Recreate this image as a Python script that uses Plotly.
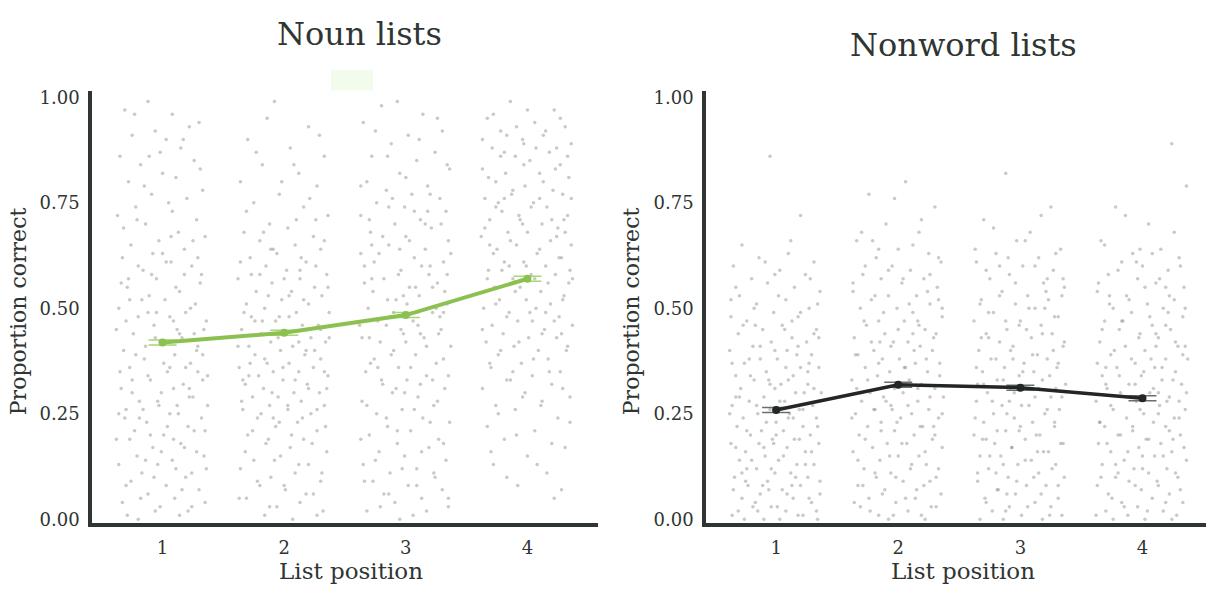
import plotly.graph_objects as go

# ---- summary data: mean proportion correct by list position ----
positions = [1, 2, 3, 4]
tick_labels = ["1", "2", "3", "4"]
noun_means = [0.419, 0.442, 0.484, 0.570]
noun_err = [0.006, 0.006, 0.006, 0.006]
nonword_means = [0.259, 0.319, 0.312, 0.287]
nonword_err = [0.006, 0.006, 0.006, 0.006]

# ---- per-participant scores: (horizontal jitter in 1/100 of a unit, score in %) ----
noun_pos1 = [
    (-31, 97), (-12, 99), (8, 96), (22, 93), (-25, 91), (3, 90), (30, 94), (-6, 92), (15, 88), (-35, 86),
    (-18, 84), (26, 85), (0, 82), (-28, 80), (11, 81), (33, 78), (-9, 77), (20, 76), (-22, 74), (5, 75),
    (-37, 72), (28, 71), (-14, 70), (13, 68), (-3, 66), (35, 67), (-26, 65), (18, 64), (-33, 62), (7, 61),
    (24, 60), (-16, 59), (-5, 57), (31, 56), (-29, 55), (14, 54), (-11, 53), (2, 52), (27, 51), (-36, 50),
    (19, 49), (-20, 48), (9, 47), (-7, 46), (34, 45), (-24, 44), (16, 43), (-2, 42), (29, 41), (-32, 40),
    (10, 39), (-15, 38), (23, 37), (-27, 36), (4, 35), (37, 34), (-10, 33), (17, 32), (-34, 31), (-1, 30),
    (25, 29), (-19, 28), (12, 27), (-30, 26), (6, 25), (32, 24), (-13, 23), (21, 22), (-23, 21), (1, 20),
    (-38, 19), (15, 18), (-8, 17), (28, 16), (-21, 15), (8, 14), (-4, 13), (36, 12), (-17, 11), (19, 10),
    (-26, 9), (3, 8), (30, 7), (-12, 6), (10, 5), (-33, 4), (24, 3), (-6, 2), (14, 1), (-20, 0),
    (-9, 58), (26, 44), (-30, 47), (6, 36), (-17, 52), (33, 39), (-3, 27), (18, 58), (-25, 33), (12, 45),
    (-36, 25), (0, 63), (22, 31), (-14, 41), (35, 21), (-5, 49), (9, 19), (-28, 57), (29, 35), (-19, 24),
    (-23, 96), (17, 90), (-2, 87), (31, 83), (-15, 79), (8, 73), (-32, 69), (25, 66), (-8, 63), (3, 61),
    (-20, 60), (32, 58), (-34, 56), (11, 55), (-27, 52), (23, 50), (-12, 49), (6, 48), (36, 47), (-38, 45),
    (14, 44), (-6, 43), (28, 40), (-22, 39), (1, 37), (19, 36), (-35, 35), (-12, 34), (33, 33), (9, 31),
    (-25, 30), (22, 29), (-4, 28), (37, 27), (-16, 26), (13, 25), (-31, 24), (4, 22), (26, 21), (-10, 20),
    (-27, 19), (18, 17), (-1, 16), (34, 15), (-14, 14), (-36, 13), (11, 12), (24, 11), (-7, 10), (-30, 8),
    (16, 7), (-18, 5), (35, 4), (-2, 3), (21, 2), (-29, 1), (7, 67), (-21, 71), (29, 62), (-11, 86),
]
noun_pos2 = [
    (-8, 99), (20, 93), (-30, 90), (5, 88), (33, 86), (-18, 84), (12, 82), (-36, 80), (27, 79), (-4, 77),
    (-25, 75), (16, 74), (36, 72), (-12, 70), (3, 69), (-33, 68), (24, 67), (-20, 66), (9, 65), (30, 64),
    (-6, 63), (-28, 62), (18, 61), (-15, 60), (2, 59), (35, 58), (-38, 57), (13, 57), (-10, 56), (25, 55),
    (-23, 54), (6, 54), (31, 53), (-2, 52), (-31, 51), (20, 51), (-16, 50), (10, 49), (37, 49), (-27, 48),
    (-7, 47), (15, 46), (28, 46), (-35, 45), (1, 44), (-19, 44), (22, 43), (-11, 42), (34, 42), (-29, 41),
    (7, 41), (-3, 40), (17, 39), (-24, 39), (30, 38), (-14, 37), (4, 37), (-37, 36), (24, 36), (-9, 35),
    (12, 35), (-21, 34), (36, 34), (-1, 33), (-32, 32), (19, 32), (-17, 31), (8, 30), (29, 30), (-26, 29),
    (-5, 29), (14, 28), (33, 27), (-12, 27), (-34, 26), (3, 26), (22, 25), (-22, 24), (11, 23), (-7, 22),
    (27, 21), (-30, 20), (16, 19), (-15, 18), (5, 17), (35, 16), (-3, 15), (-25, 14), (20, 13), (-36, 12),
    (9, 11), (-11, 10), (30, 9), (-20, 8), (1, 7), (24, 6), (-31, 5), (13, 4), (-6, 3), (32, 2),
    (-16, 1), (7, 0), (-27, 58), (18, 40), (-9, 24), (26, 71), (-34, 33), (4, 53), (-18, 47), (35, 31),
    (-14, 95), (29, 91), (-23, 87), (8, 84), (-2, 80), (21, 76), (-31, 73), (10, 71), (-17, 68), (33, 66),
    (-9, 64), (14, 62), (-36, 61), (26, 60), (-20, 58), (0, 57), (36, 55), (-13, 53), (16, 52), (-33, 49),
    (4, 48), (-24, 47), (30, 45), (-5, 43), (12, 42), (-38, 41), (25, 40), (-16, 38), (-1, 36), (33, 35),
    (-29, 34), (9, 33), (20, 31), (-10, 30), (-35, 28), (3, 27), (27, 26), (-19, 25), (15, 24), (-4, 23),
    (34, 22), (-26, 21), (6, 20), (-13, 19), (23, 18), (-32, 16), (-8, 14), (12, 13), (31, 11), (-22, 9),
    (0, 8), (18, 6), (-37, 5), (-12, 3), (27, 1), (-4, 48), (37, 43), (-28, 37), (13, 59), (-11, 64),
]
noun_pos3 = [
    (-20, 98), (14, 96), (-35, 94), (30, 92), (2, 91), (-12, 89), (24, 87), (-28, 86), (9, 85), (36, 83),
    (-5, 82), (-32, 80), (18, 79), (-16, 78), (5, 77), (28, 76), (-24, 75), (-1, 74), (33, 73), (-37, 72),
    (12, 71), (-9, 70), (21, 69), (-29, 68), (0, 67), (35, 66), (-14, 65), (16, 64), (-22, 63), (7, 62),
    (31, 61), (-34, 60), (-4, 59), (19, 58), (-18, 57), (26, 56), (3, 55), (-27, 54), (11, 53), (-8, 52),
    (34, 51), (-31, 50), (22, 49), (-13, 48), (6, 47), (-38, 46), (29, 45), (-2, 44), (15, 43), (-21, 42),
    (37, 41), (-10, 40), (8, 39), (-26, 38), (25, 37), (-6, 36), (-33, 35), (17, 34), (1, 33), (-19, 32),
    (32, 31), (-11, 30), (10, 29), (-36, 28), (23, 27), (-3, 26), (-24, 25), (14, 24), (36, 23), (-15, 22),
    (4, 21), (-30, 20), (27, 19), (-7, 18), (19, 17), (-22, 16), (-1, 15), (33, 14), (-35, 13), (9, 12),
    (-13, 11), (24, 10), (-27, 9), (2, 8), (30, 7), (-18, 6), (13, 5), (-9, 4), (35, 3), (-32, 2),
    (6, 1), (20, 60), (-16, 46), (31, 38), (-28, 57), (-2, 53), (12, 44), (-37, 63), (25, 50), (-8, 31),
    (16, 70), (-23, 36), (34, 58), (0, 42), (-14, 74), (8, 55), (-30, 43), (22, 33), (-5, 64), (28, 48),
    (-7, 99), (26, 95), (-25, 92), (11, 90), (-15, 86), (34, 84), (0, 81), (-37, 79), (20, 77), (-11, 76),
    (7, 73), (-30, 71), (29, 70), (-19, 67), (3, 66), (37, 63), (-26, 61), (13, 60), (-6, 58), (-34, 56),
    (22, 55), (-15, 52), (1, 51), (31, 49), (-23, 47), (10, 46), (-4, 45), (27, 44), (-36, 43), (17, 41),
    (-12, 39), (-29, 37), (4, 36), (35, 34), (-20, 33), (12, 32), (-1, 30), (26, 28), (-32, 27), (7, 26),
    (-16, 24), (20, 23), (-7, 21), (-37, 19), (31, 18), (13, 16), (-25, 14), (-3, 12), (23, 11), (-34, 9),
    (9, 8), (-14, 6), (35, 5), (-21, 3), (17, 2), (-5, 0), (-28, 65), (32, 54), (-10, 49), (18, 73),
]
noun_pos4 = [
    (-14, 99), (22, 97), (-33, 95), (6, 94), (31, 93), (-22, 92), (13, 91), (-4, 90), (36, 89), (-29, 88),
    (18, 87), (-10, 86), (2, 85), (27, 84), (-37, 83), (-18, 82), (10, 82), (34, 81), (-26, 80), (-2, 79),
    (21, 78), (-13, 77), (29, 77), (-35, 76), (5, 75), (16, 74), (-21, 73), (-7, 72), (33, 72), (-31, 71),
    (12, 70), (25, 69), (-16, 68), (0, 68), (-38, 67), (19, 66), (-9, 65), (36, 65), (-25, 64), (8, 63),
    (28, 62), (-3, 61), (-19, 61), (15, 60), (-32, 59), (3, 58), (23, 58), (-12, 57), (34, 56), (-27, 55),
    (-6, 55), (11, 54), (30, 53), (-23, 52), (-1, 52), (19, 51), (-36, 50), (7, 50), (-15, 49), (26, 48),
    (-8, 47), (37, 46), (-29, 46), (14, 45), (-20, 44), (1, 43), (24, 43), (-34, 42), (-11, 41), (9, 40),
    (32, 40), (-24, 39), (17, 38), (-5, 37), (-30, 36), (27, 35), (4, 34), (-17, 33), (20, 32), (-37, 31),
    (-2, 30), (35, 29), (12, 28), (-26, 27), (-10, 26), (25, 24), (-33, 22), (6, 21), (-19, 19), (31, 17),
    (0, 15), (-28, 13), (16, 11), (-8, 8), (22, 5), (-15, 60), (30, 71), (-35, 54), (10, 76), (-22, 86),
    (4, 47), (-31, 65), (24, 88), (-12, 35), (37, 57), (-4, 70), (15, 49), (-26, 74), (28, 44), (-17, 91),
    (0, 97), (-28, 96), (27, 95), (-9, 93), (15, 92), (-37, 90), (7, 88), (-19, 87), (33, 86), (-3, 84),
    (23, 83), (-32, 81), (13, 80), (-12, 78), (36, 76), (-24, 75), (3, 74), (-6, 71), (20, 71), (-35, 69),
    (31, 68), (-14, 66), (10, 64), (-28, 63), (26, 62), (-1, 60), (-21, 59), (35, 59), (6, 57), (-33, 57),
    (17, 56), (-10, 54), (29, 52), (-26, 51), (2, 49), (-17, 48), (22, 47), (-37, 45), (12, 44), (-7, 42),
    (33, 41), (-22, 40), (5, 38), (-31, 37), (18, 35), (-14, 33), (29, 31), (-4, 29), (11, 27), (-24, 25),
    (35, 23), (-9, 20), (20, 18), (-30, 16), (8, 13), (-17, 10), (28, 7), (-3, 89), (-19, 76), (24, 67),
]
nonword_pos1 = [
    (-5, 86), (20, 72), (-28, 65), (10, 63), (-14, 62), (31, 61), (-35, 60), (3, 59), (24, 58), (-20, 57),
    (-7, 56), (15, 55), (36, 54), (-30, 53), (8, 52), (-16, 51), (27, 50), (-2, 49), (-37, 48), (18, 48),
    (-24, 47), (5, 46), (33, 45), (-11, 45), (-31, 44), (13, 43), (-4, 42), (25, 42), (-19, 41), (-38, 40),
    (9, 40), (29, 39), (-13, 38), (1, 38), (-26, 37), (20, 36), (35, 36), (-8, 35), (-33, 34), (14, 34),
    (-18, 33), (4, 32), (26, 32), (-1, 31), (-29, 31), (16, 30), (37, 30), (-10, 29), (-22, 28), (7, 28),
    (30, 27), (-36, 27), (-5, 26), (19, 26), (-15, 25), (11, 25), (-27, 24), (33, 24), (0, 23), (22, 22),
    (-32, 22), (-12, 21), (6, 21), (28, 20), (-21, 20), (15, 19), (-3, 19), (-37, 18), (35, 18), (9, 17),
    (-25, 16), (24, 16), (-9, 15), (2, 14), (-30, 14), (17, 13), (31, 13), (-16, 12), (-1, 11), (12, 11),
    (-34, 10), (26, 10), (-7, 9), (20, 8), (-23, 8), (5, 7), (36, 6), (-13, 6), (-28, 5), (14, 5),
    (29, 4), (-4, 3), (-19, 3), (8, 2), (33, 2), (-36, 1), (22, 1), (-10, 0), (3, 0), (-26, 0),
    (18, 41), (-6, 33), (-33, 29), (27, 37), (-17, 46), (10, 24), (-24, 12), (34, 51), (-2, 18), (13, 8),
    (12, 66), (-9, 61), (28, 57), (-33, 55), (2, 53), (-18, 50), (20, 49), (-27, 46), (7, 45), (35, 43),
    (-13, 41), (-1, 40), (17, 39), (-36, 37), (26, 35), (-21, 34), (10, 33), (-5, 32), (31, 31), (-30, 29),
    (3, 28), (-16, 27), (22, 26), (-38, 25), (14, 24), (-8, 23), (34, 22), (-24, 21), (0, 20), (19, 19),
    (-14, 18), (-33, 17), (29, 16), (6, 15), (-20, 14), (24, 13), (-4, 12), (-28, 11), (16, 10), (36, 9),
    (-11, 8), (-35, 7), (9, 6), (27, 5), (-17, 4), (1, 3), (-31, 2), (18, 1), (34, 0), (-6, 7),
    (-22, 38), (13, 47), (-37, 52), (23, 30), (-10, 17), (31, 44), (-1, 58), (-25, 9), (8, 36), (-15, 2),
]
nonword_pos2 = [
    (6, 80), (-24, 77), (30, 74), (-10, 70), (17, 68), (-34, 66), (0, 64), (25, 63), (-18, 62), (35, 61),
    (-5, 60), (10, 59), (-29, 58), (21, 57), (-14, 57), (3, 56), (32, 55), (-37, 54), (-8, 53), (15, 53),
    (-22, 52), (26, 51), (-1, 50), (-31, 50), (12, 49), (36, 48), (-16, 47), (5, 47), (-26, 46), (22, 45),
    (-11, 44), (31, 44), (-36, 43), (8, 42), (-4, 42), (18, 41), (-20, 40), (28, 40), (-33, 39), (1, 38),
    (-13, 38), (14, 37), (34, 37), (-27, 36), (-7, 35), (24, 35), (-17, 34), (9, 33), (-38, 33), (19, 32),
    (-2, 32), (30, 31), (-23, 30), (4, 30), (-12, 29), (37, 29), (16, 28), (-30, 28), (-6, 27), (25, 26),
    (-19, 26), (11, 25), (-35, 25), (2, 24), (33, 24), (-14, 23), (20, 22), (-25, 22), (-3, 21), (13, 20),
    (-32, 20), (28, 19), (-9, 18), (7, 18), (-21, 17), (36, 17), (-37, 16), (17, 15), (0, 15), (-15, 14),
    (23, 13), (-28, 12), (10, 12), (-6, 11), (31, 10), (-18, 10), (4, 9), (-33, 8), (21, 8), (-11, 7),
    (35, 6), (-24, 5), (14, 5), (-2, 4), (27, 3), (-31, 3), (8, 2), (-16, 1), (19, 1), (-8, 0),
    (-27, 60), (33, 52), (-15, 42), (6, 36), (26, 58), (-34, 31), (16, 47), (-5, 26), (-21, 66), (29, 22),
    (-3, 76), (19, 71), (-30, 68), (12, 65), (-16, 64), (33, 62), (-8, 59), (4, 57), (-37, 56), (24, 54),
    (-19, 53), (9, 51), (36, 50), (-12, 49), (-28, 47), (17, 46), (0, 45), (29, 43), (-22, 42), (-6, 41),
    (13, 40), (-35, 39), (23, 38), (-16, 37), (5, 36), (34, 34), (-25, 33), (-3, 31), (16, 31), (-31, 30),
    (26, 29), (-10, 28), (8, 27), (-20, 26), (36, 25), (-38, 24), (-1, 23), (18, 22), (-14, 21), (30, 20),
    (-27, 19), (3, 18), (22, 16), (-7, 15), (-33, 14), (11, 13), (33, 12), (-19, 11), (-2, 10), (26, 9),
    (-29, 8), (15, 7), (-13, 6), (6, 5), (-36, 4), (31, 3), (-23, 2), (-4, 1), (22, 0), (12, 44),
]
nonword_pos3 = [
    (-12, 82), (25, 74), (-30, 71), (8, 68), (-3, 66), (33, 64), (-20, 63), (15, 62), (-36, 61), (2, 60),
    (27, 59), (-9, 58), (-25, 57), (19, 56), (36, 55), (-15, 54), (6, 53), (-32, 52), (23, 52), (-4, 51),
    (12, 50), (-22, 49), (31, 48), (-38, 47), (0, 47), (17, 46), (-11, 45), (-28, 44), (26, 44), (9, 43),
    (-17, 42), (35, 41), (-6, 41), (-34, 40), (14, 39), (22, 38), (-24, 38), (3, 37), (-13, 36), (30, 36),
    (-31, 35), (-1, 34), (18, 33), (-19, 33), (37, 32), (7, 31), (-8, 31), (-27, 30), (25, 29), (12, 29),
    (-36, 28), (-15, 27), (1, 27), (32, 26), (-22, 25), (20, 25), (-5, 24), (10, 23), (-30, 23), (28, 22),
    (-12, 21), (-38, 20), (16, 20), (4, 19), (-21, 18), (35, 18), (-7, 17), (23, 16), (-33, 15), (-16, 15),
    (9, 14), (29, 13), (-2, 13), (-26, 12), (15, 11), (-10, 10), (36, 10), (-35, 9), (5, 8), (21, 8),
    (-18, 7), (-4, 6), (31, 5), (-29, 5), (12, 4), (-9, 3), (25, 3), (-23, 2), (1, 1), (34, 1),
    (-14, 0), (18, 0), (-32, 43), (11, 35), (-26, 49), (27, 40), (-9, 28), (34, 53), (-1, 21), (-20, 11),
    (22, 57), (-35, 32), (5, 45), (-17, 60), (14, 16), (29, 31), (-6, 38), (-28, 19), (20, 50), (-11, 6),
    (17, 72), (-22, 69), (4, 66), (-37, 64), (29, 63), (-10, 62), (12, 60), (-28, 59), (35, 57), (-4, 56),
    (21, 54), (-17, 53), (-33, 51), (7, 50), (28, 48), (-12, 47), (-1, 46), (18, 44), (-26, 43), (36, 42),
    (-8, 40), (10, 39), (-20, 38), (31, 37), (-36, 36), (2, 35), (24, 34), (-14, 33), (-30, 32), (15, 31),
    (-5, 30), (34, 29), (-23, 28), (7, 27), (22, 26), (-11, 25), (-37, 24), (28, 23), (0, 22), (-19, 21),
    (13, 20), (-31, 19), (33, 18), (-7, 17), (19, 16), (-25, 15), (4, 14), (-14, 13), (26, 12), (-35, 11),
    (11, 10), (-3, 9), (31, 8), (-19, 7), (17, 6), (-28, 4), (6, 3), (-12, 2), (24, 1), (-33, 0),
]
nonword_pos4 = [
    (24, 89), (36, 79), (-22, 74), (5, 70), (-34, 66), (15, 64), (-8, 63), (30, 62), (-17, 61), (0, 60),
    (21, 59), (-28, 58), (-4, 57), (11, 56), (34, 55), (-37, 54), (-13, 53), (26, 52), (4, 51), (-24, 50),
    (17, 50), (-9, 49), (33, 48), (-31, 47), (8, 46), (-19, 45), (23, 45), (-2, 44), (13, 43), (-35, 42),
    (29, 41), (-14, 41), (2, 40), (-26, 39), (19, 38), (37, 38), (-6, 37), (-21, 36), (10, 36), (27, 35),
    (-33, 34), (-1, 34), (16, 33), (-11, 32), (32, 32), (-29, 31), (6, 30), (-18, 30), (22, 29), (-38, 28),
    (-5, 28), (14, 27), (35, 26), (-24, 26), (1, 25), (-13, 24), (26, 24), (9, 23), (-31, 22), (19, 22),
    (-8, 21), (-20, 20), (31, 20), (3, 19), (-36, 18), (15, 18), (-3, 17), (24, 16), (-26, 16), (10, 15),
    (-15, 14), (36, 14), (-33, 13), (20, 12), (-7, 12), (5, 11), (-22, 10), (29, 10), (-11, 9), (13, 8),
    (-37, 8), (-1, 7), (22, 6), (-28, 6), (8, 5), (33, 4), (-17, 4), (-4, 3), (17, 2), (-30, 2),
    (28, 1), (-12, 1), (2, 0), (-24, 0), (11, 44), (-27, 53), (30, 28), (-6, 32), (19, 55), (-35, 23),
    (7, 38), (-16, 47), (25, 19), (-2, 64), (35, 41), (-20, 11), (13, 30), (-30, 36), (0, 15), (21, 49),
    (-14, 72), (26, 68), (-31, 65), (8, 63), (-5, 61), (31, 60), (-20, 59), (14, 57), (-36, 56), (2, 55),
    (22, 53), (-11, 52), (-27, 51), (35, 50), (6, 48), (-17, 47), (19, 46), (-33, 45), (-3, 43), (27, 42),
    (11, 41), (-23, 40), (33, 39), (-9, 38), (-37, 37), (16, 36), (1, 35), (-19, 34), (25, 33), (-30, 32),
    (9, 31), (36, 30), (-13, 29), (20, 28), (-26, 27), (-2, 26), (13, 25), (30, 24), (-35, 23), (-8, 22),
    (22, 21), (-18, 20), (5, 19), (-29, 18), (34, 17), (-12, 16), (17, 15), (-22, 13), (0, 12), (27, 11),
    (-34, 10), (12, 9), (-6, 8), (31, 7), (-25, 5), (19, 4), (-15, 3), (4, 2), (-38, 1), (24, 0),
]

noun_scores = [noun_pos1, noun_pos2, noun_pos3, noun_pos4]
nonword_scores = [nonword_pos1, nonword_pos2, nonword_pos3, nonword_pos4]

# ---- styling ----
FONT = "DejaVu Serif"
INK = "#2f3532"
DOT = "rgba(150,147,133,0.5)"
GREEN = "#8cc152"
GREEN_LIGHT = "#a9d477"
BLACK = "#222624"
W, H = 1206, 590


def cloud_xy(groups):
    xs, ys = [], []
    for pos, pts in zip(positions, groups):
        for dx, pct in pts:
            xs.append(pos + dx / 100)
            ys.append(pct / 100)
    return xs, ys


fig = go.Figure()

for groups, xa, ya in [(noun_scores, "x", "y"), (nonword_scores, "x2", "y2")]:
    xs, ys = cloud_xy(groups)
    fig.add_trace(go.Scatter(
        x=xs, y=ys, mode="markers", xaxis=xa, yaxis=ya,
        marker=dict(size=3.5, color=DOT, line=dict(width=0)),
        hoverinfo="skip", showlegend=False,
    ))

fig.add_trace(go.Scatter(
    x=positions, y=noun_means, mode="lines+markers", xaxis="x", yaxis="y",
    line=dict(color=GREEN, width=4),
    marker=dict(size=8, color=GREEN),
    error_y=dict(type="data", array=noun_err, color=GREEN_LIGHT, thickness=1.5, width=14),
    name="Noun lists", showlegend=False,
))
fig.add_trace(go.Scatter(
    x=positions, y=nonword_means, mode="lines+markers", xaxis="x2", yaxis="y2",
    line=dict(color=BLACK, width=3.5),
    marker=dict(size=8, color=BLACK),
    error_y=dict(type="data", array=nonword_err, color="#6b6f6c", thickness=1.5, width=14),
    name="Nonword lists", showlegend=False,
))

y_top = 1 - 88 / H
y_bot = 1 - 528 / H

common_x = dict(
    tickmode="array", tickvals=positions, ticktext=tick_labels,
    showgrid=False, zeroline=False, showline=True, linecolor=INK, linewidth=3.5,
    ticks="outside", ticklen=5, tickcolor="rgba(0,0,0,0)",
    tickfont=dict(family=FONT, size=18, color=INK),
)
common_y = dict(
    range=[-0.009, 1.014], tickmode="array", tickvals=[0, 0.25, 0.5, 0.75, 1.0],
    tickformat=".2f", showgrid=False, zeroline=False, showline=True,
    linecolor=INK, linewidth=3.5,
    ticks="outside", ticklen=5, tickcolor="rgba(0,0,0,0)",
    tickfont=dict(family=FONT, size=18, color=INK),
    domain=[y_bot, y_top],
)

fig.update_layout(
    width=W, height=H,
    margin=dict(l=0, r=0, t=0, b=0),
    paper_bgcolor="white", plot_bgcolor="white",
    xaxis=dict(common_x, domain=[92 / W, 598 / W], range=[0.42, 4.58], anchor="y"),
    yaxis=dict(common_y, anchor="x"),
    xaxis2=dict(common_x, domain=[706 / W, 1.0], range=[0.426, 4.52], anchor="y2"),
    yaxis2=dict(common_y, anchor="x2"),
    showlegend=False,
)

# faint legend swatch above the noun panel
fig.add_shape(type="rect", xref="paper", yref="paper",
              x0=331 / W, x1=373 / W, y0=1 - 87 / H, y1=1 - 66 / H,
              fillcolor="#f2fbec", line=dict(width=0), layer="below")

texts = [
    ("Noun lists", 360, 30, 32, 0),
    ("Nonword lists", 963, 41, 32, 0),
    ("Proportion correct", 18, 312, 22, -90),
    ("Proportion correct", 631, 312, 22, -90),
    ("List position", 351, 577, 23, 0),
    ("List position", 963, 577, 23, 0),
]
for txt, px, py, size, ang in texts:
    fig.add_annotation(
        text=txt, xref="paper", yref="paper", x=px / W, y=1 - py / H,
        xanchor="center", yanchor="middle", showarrow=False, textangle=ang,
        font=dict(family=FONT, size=size, color=INK),
    )

fig.write_html("out.html")
